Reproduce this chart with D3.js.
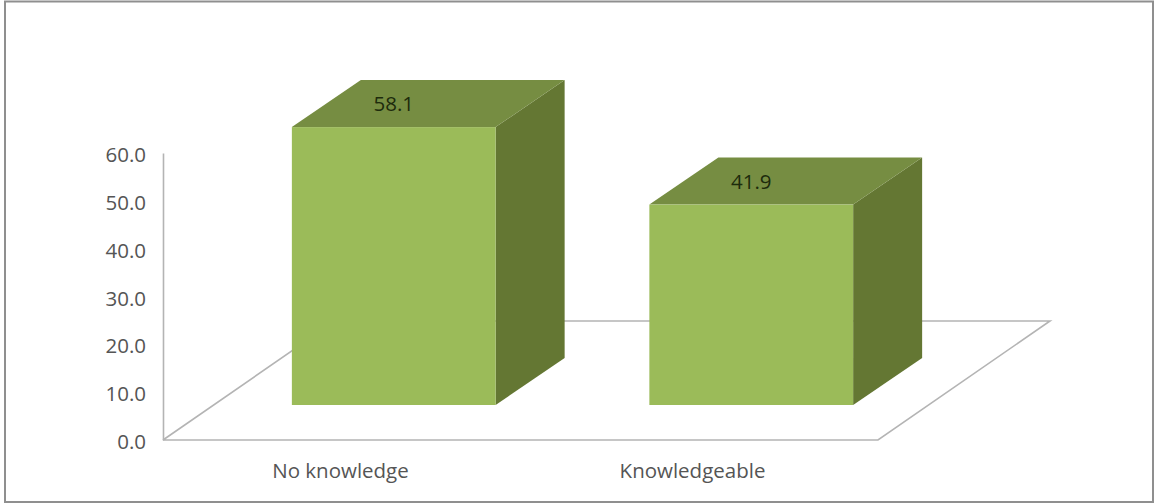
<!DOCTYPE html>
<html>
<head>
<meta charset="utf-8">
<script src="https://cdn.jsdelivr.net/npm/d3@7"></script>
<style>
  html, body { margin: 0; padding: 0; background: #fff; }
  svg { display: block; }
  text { font-family: "Open Sans", Lato, sans-serif; }
</style>
</head>
<body>
<svg id="chart" width="1155" height="504"></svg>
<script>
// Awareness survey results, percentage of respondents per group
const categories = ["No knowledge", "Knowledgeable"];
const percentages = [58.1, 41.9];
const axisTicks = [0, 10, 20, 30, 40, 50, 60];

const width = 1155, height = 504;
const labelSize = 20.5;
const svg = d3.select("#chart");

// Frame of the chart area
svg.append("rect")
  .attr("x", 5).attr("y", 1.5)
  .attr("width", width - 7).attr("height", height - 3.5)
  .attr("fill", "#fff").attr("stroke", "#8f8f8f").attr("stroke-width", 2);

// Plot box: front edge of the floor and height of the value axis
const floorLeft = 163, floorRight = 878, baseY = 440, topY = 153;
// Oblique projection of the depth axis
const floorDepth = { dx: 172, dy: -119 };
const barFront = { dx: 52, dy: -35 };
const barDepth = { dx: 69, dy: -47 };

const x = d3.scaleBand().domain(categories).range([floorLeft, floorRight]);
const y = d3.scaleLinear().domain([0, 60]).range([baseY, topY]);
const barWidth = x.bandwidth() * 0.57;

// Floor parallelogram, open along the value axis side
const floorLine = d3.line();
svg.append("path")
  .attr("d", floorLine([
    [floorLeft, baseY],
    [floorRight, baseY],
    [floorRight + floorDepth.dx, baseY + floorDepth.dy],
    [floorLeft + floorDepth.dx, baseY + floorDepth.dy],
    [floorLeft, baseY]
  ]))
  .attr("fill", "none").attr("stroke", "#b4b4b4").attr("stroke-width", 1.6);

// Value axis
const yAxis = d3.axisLeft(y).tickValues(axisTicks).tickFormat(d3.format(".1f")).tickSize(0).tickPadding(17);
const yG = svg.append("g").attr("transform", `translate(${floorLeft},0)`).call(yAxis);
yG.select(".domain").attr("stroke", "#b4b4b4").attr("stroke-width", 1.6);
yG.selectAll("text").attr("font-size", labelSize).attr("fill", "#555").attr("dy", "0.42em");

// Category labels sit under the floor's front edge
const labelX = d3.scalePoint().domain(categories).range([340, 692]);
const xAxis = d3.axisBottom(labelX).tickSize(0).tickPadding(0);
const xG = svg.append("g").attr("transform", `translate(0,${baseY + 25.5})`).call(xAxis);
xG.select(".domain").remove();
xG.selectAll("text").attr("font-size", labelSize).attr("fill", "#555").attr("dy", "0.62em");

// Each column is three polygons: right side, top, and front
const rows = categories.map((c, i) => ({ c, v: percentages[i] }));
const col = svg.append("g").selectAll("g").data(rows).join("g");
const barLeft = d => x(d.c) + (x.bandwidth() - barWidth) / 2 + barFront.dx;
const barRight = d => barLeft(d) + barWidth;
const barTop = d => y(d.v) + barFront.dy;
const barBottom = y(0) + barFront.dy;

col.append("path").attr("fill", "#647733")
  .attr("d", d => floorLine([
    [barRight(d), barTop(d)],
    [barRight(d) + barDepth.dx, barTop(d) + barDepth.dy],
    [barRight(d) + barDepth.dx, barBottom + barDepth.dy],
    [barRight(d), barBottom]
  ]));
col.append("path").attr("fill", "#768d42")
  .attr("d", d => floorLine([
    [barLeft(d), barTop(d)],
    [barLeft(d) + barDepth.dx, barTop(d) + barDepth.dy],
    [barRight(d) + barDepth.dx, barTop(d) + barDepth.dy],
    [barRight(d), barTop(d)]
  ]));
col.append("rect").attr("fill", "#9bbb59")
  .attr("x", barLeft).attr("y", barTop).attr("width", barWidth).attr("height", d => barBottom - barTop(d));

// Value labels on the top faces
col.append("text")
  .attr("x", d => barLeft(d) + barWidth / 2)
  .attr("y", d => barTop(d) - 16)
  .attr("text-anchor", "middle")
  .attr("font-size", labelSize).attr("fill", "#1d2b0c")
  .text(d => d3.format(".1f")(d.v));
</script>
</body>
</html>
